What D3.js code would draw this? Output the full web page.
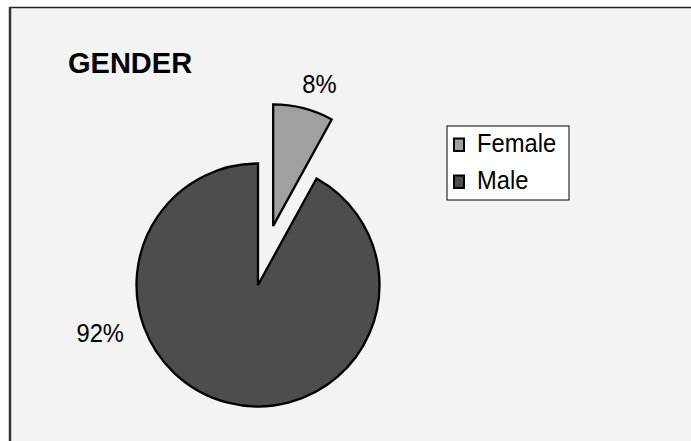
<!DOCTYPE html>
<html>
<head>
<meta charset="utf-8">
<script src="https://cdn.jsdelivr.net/npm/d3@7"></script>
<style>
  html, body { margin: 0; padding: 0; background: #ffffff; }
  text { font-family: "Liberation Sans", Arial, sans-serif; }
</style>
</head>
<body>
<div id="chart"></div>
<script>
// data
const categories = ["Female", "Male"];
const values = [8, 92];
const labels = ["8%", "92%"];
const colors = ["#a0a0a0", "#4d4d4d"];

const svgWidth = 691;
const svgHeight = 441;

const cx = 258, cy = 285, radius = 121.5;
const explode = [61, 0];   // pull-out distance for each slice
const squeeze = 0.95;      // the original font is a little narrower than Arial

const svg = d3.select("#chart")
  .append("svg")
  .attr("width", svgWidth)
  .attr("height", svgHeight);

// chart area background + frame
svg.append("rect")
  .attr("x", 10).attr("y", 7.5)
  .attr("width", 720).attr("height", 480)
  .attr("fill", "#f3f3f3")
  .attr("stroke", "#222")
  .attr("stroke-width", 1.5);
svg.append("line")
  .attr("x1", 10).attr("x2", 10)
  .attr("y1", 7).attr("y2", svgHeight)
  .attr("stroke", "#333")
  .attr("stroke-width", 2.5);

svg.append("text")
  .attr("x", 68).attr("y", 72.5)
  .attr("font-size", "29px")
  .attr("font-weight", "bold")
  .text("GENDER");

const pie = d3.pie().sort(null).value(d => d)(values);
const arc = d3.arc().innerRadius(0).outerRadius(radius);

const pieGroup = svg.append("g")
  .attr("transform", `translate(${cx}, ${cy})`);

pieGroup.selectAll(".slice")
  .data(pie)
  .enter()
  .append("path")
  .attr("class", "slice")
  .attr("d", arc)
  .attr("transform", (d, i) => {
    const mid = (d.startAngle + d.endAngle) / 2;
    return `translate(${Math.sin(mid) * explode[i]}, ${-Math.cos(mid) * explode[i]})`;
  })
  .attr("fill", (d, i) => colors[i])
  .attr("stroke", "#000")
  .attr("stroke-width", 2.3)
  .attr("stroke-linejoin", "miter");

// data labels (angle in degrees from 12 o'clock, distance from centre)
const labelPos = [{ a: 17, r: 210 }, { a: 253, r: 165 }];
pieGroup.selectAll(".pctLabel")
  .data(labels)
  .enter()
  .append("g")
  .attr("class", "pctLabel")
  .attr("transform", (d, i) => {
    const a = labelPos[i].a * Math.PI / 180;
    return `translate(${Math.sin(a) * labelPos[i].r}, ${-Math.cos(a) * labelPos[i].r}) scale(${squeeze}, 1)`;
  })
  .append("text")
  .attr("dy", "0.36em")
  .attr("text-anchor", "middle")
  .attr("font-size", "25px")
  .text(d => d);

// legend
const legend = svg.append("g")
  .attr("transform", "translate(447, 126)");

legend.append("rect")
  .attr("x", 0).attr("y", 0)
  .attr("width", 122).attr("height", 74)
  .attr("fill", "#fff")
  .attr("stroke", "#000")
  .attr("stroke-width", 1);

const item = legend.selectAll(".item")
  .data(categories)
  .enter()
  .append("g")
  .attr("class", "item")
  .attr("transform", (d, i) => `translate(0, ${i * 37})`);

item.append("rect")
  .attr("x", 7).attr("y", 12.5)
  .attr("width", 10).attr("height", 12.5)
  .attr("fill", (d, i) => colors[i])
  .attr("stroke", "#000")
  .attr("stroke-width", 2);

item.append("g")
  .attr("transform", `translate(30, 26) scale(${squeeze}, 1)`)
  .append("text")
  .attr("font-size", "25px")
  .text(d => d);
</script>
</body>
</html>
